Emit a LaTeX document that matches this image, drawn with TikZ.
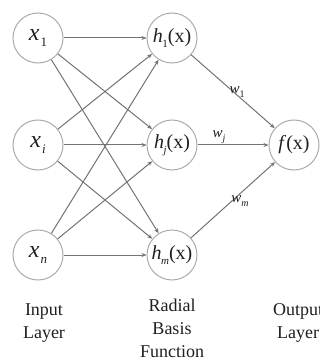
\documentclass[tikz,border=0pt]{standalone}
\usepackage{fontspec}
\setmainfont{Liberation Serif}
\usetikzlibrary{arrows.meta}
\newcommand{\mysub}[1]{\kern1pt\raisebox{-0.5ex}{\fontsize{13}{13}\selectfont #1}}
\newcommand{\hsub}[1]{\kern-0.5pt\raisebox{-0.6ex}{\fontsize{11}{11}\selectfont #1}}
\newcommand{\wsub}[1]{\raisebox{-0.5ex}{\fontsize{10}{10}\selectfont #1}}
\begin{document}
\begin{tikzpicture}[x=1pt,y=-1pt,
  neuron/.style={circle,draw=black!33,line width=1pt,minimum size=50pt,inner sep=0pt,
    font=\fontsize{20}{20}\selectfont,text=black!88},
  link/.style={draw=black!55,line width=1pt,-{Stealth[length=5pt,width=4pt]}},
  bigx/.style={font=\fontsize{24}{24}\selectfont},
  wlab/.style={font=\fontsize{15}{15}\selectfont,text=black!88},
  caption/.style={font=\fontsize{18}{23}\selectfont,align=center,text=black!88}]
\useasboundingbox (0,0) rectangle (320,358);
\clip (0,0) rectangle (320,358);
\node[neuron,bigx] (x1) at (38,38)  {\textit{x}\mysub{1}};
\node[neuron,bigx] (xi) at (38,145) {\textit{x}\mysub{\textit{i}}};
\node[neuron,bigx] (xn) at (38,255) {\textit{x}\mysub{\textit{n}}};
\node[neuron] (h1) at (172,38)  {\textit{h}\hsub{1}(x)};
\node[neuron] (hj) at (172,145) {\textit{h}\hsub{\textit{j}}(x)};
\node[neuron] (hm) at (172,255) {\textit{h}\hsub{\textit{m}}(x)};
\node[neuron] (f)  at (294,145) {\textit{f}(x)};
\foreach \a in {x1,xi,xn}{
  \foreach \b in {h1,hj,hm}{
    \draw[link] (\a) -- (\b);
  }
}
\draw[link] (h1) -- (f);
\draw[link] (hj) -- (f);
\draw[link] (hm) -- (f);
\node[wlab] (w1) at (237,92)  {\textit{w}\wsub{1}};
\node[wlab] (wj) at (219,137) {\textit{w}\wsub{\textit{j}}};
\node[wlab] (wm) at (240,201) {\textit{w}\wsub{\textit{m}}};
\node[caption] (lin)  at (44,323)  {Input\\Layer};
\node[caption] (lrbf) at (172,328) {Radial\\Basis\\Function};
\node[caption] (lout) at (298,323) {Output\\Layer};
\end{tikzpicture}
\end{document}
